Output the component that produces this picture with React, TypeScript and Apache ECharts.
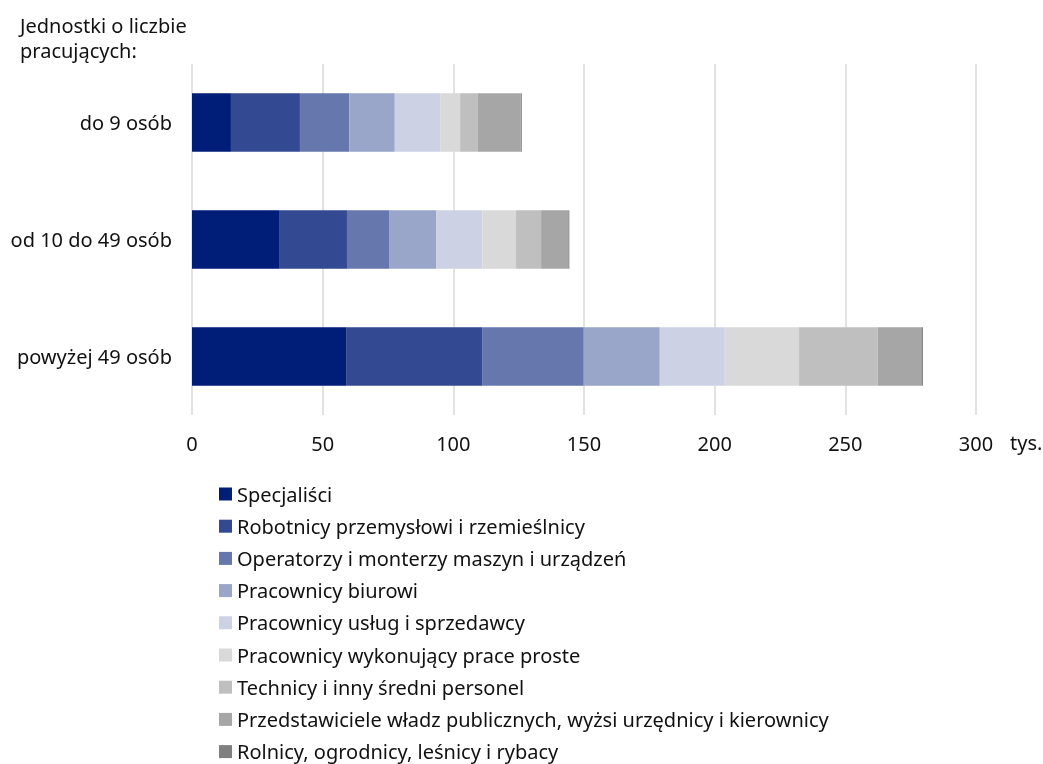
import React, { useEffect, useRef } from "react";
import * as echarts from "echarts";

const categories = ["do 9 osób", "od 10 do 49 osób", "powyżej 49 osób"];
const seriesNames = [
  "Specjaliści",
  "Robotnicy przemysłowi i rzemieślnicy",
  "Operatorzy i monterzy maszyn i urządzeń",
  "Pracownicy biurowi",
  "Pracownicy usług i sprzedawcy",
  "Pracownicy wykonujący prace proste",
  "Technicy i inny średni personel",
  "Przedstawiciele władz publicznych, wyżsi urzędnicy i kierownicy",
  "Rolnicy, ogrodnicy, leśnicy i rybacy",
];
const specjalisci = [14.9, 33.3, 59.2];
const robotnicy = [26.4, 26.0, 51.8];
const operatorzy = [18.9, 16.1, 38.9];
const biurowi = [17.4, 18.0, 29.1];
const uslugi = [17.4, 17.7, 24.9];
const proste = [7.6, 12.9, 28.4];
const technicy = [6.8, 9.6, 30.1];
const przedstawiciele = [16.4, 10.4, 16.7];
const rolnicy = [0.4, 0.4, 0.6];
const seriesValues = [specjalisci, robotnicy, operatorzy, biurowi, uslugi, proste, technicy, przedstawiciele, rolnicy];
const colors = ["#001D77", "#334A92", "#6677AD", "#99A5C9", "#CCD2E4", "#D9D9D9", "#BFBFBF", "#A6A6A6", "#808080"];
const xTicks = [0, 50, 100, 150, 200, 250, 300];

const FONT = "'Noto Sans', sans-serif";
const TXT = "#111111";
const FS = 20;

export default function App() {
  const ref = useRef<HTMLDivElement>(null);
  useEffect(() => {
    if (!ref.current) return;
    const chart = echarts.init(ref.current, undefined, { renderer: "svg" });
    chart.setOption({
      animation: false,
      textStyle: { fontFamily: FONT },
      title: {
        text: "Jednostki o liczbie\npracujących:",
        left: 20,
        top: 13,
        padding: 0,
        textStyle: { fontFamily: FONT, fontSize: FS, fontWeight: "normal", color: TXT, lineHeight: 25 },
      },
      grid: { left: 192, right: 67, top: 64, bottom: 349, containLabel: false },
      xAxis: {
        type: "value",
        min: xTicks[0],
        max: xTicks[xTicks.length - 1],
        interval: 50,
        axisLine: { show: false },
        axisTick: { show: false },
        axisLabel: { fontFamily: FONT, fontSize: FS, color: TXT, margin: 18 },
        splitLine: { show: true, lineStyle: { color: "#D9D9D9", width: 1.5 } },
      },
      yAxis: {
        type: "category",
        data: categories,
        inverse: true,
        axisLine: { show: false },
        axisTick: { show: false },
        axisLabel: { fontFamily: FONT, fontSize: FS, color: TXT, margin: 20 },
      },
      legend: {
        orient: "vertical",
        left: 219,
        top: 484,
        height: 280,
        padding: 0,
        icon: "rect",
        itemWidth: 13,
        itemHeight: 13,
        itemGap: 12.2,
        textStyle: { fontFamily: FONT, fontSize: FS, color: TXT },
        data: seriesNames,
      },
      graphic: [
        {
          type: "text",
          left: 1010,
          top: 432,
          style: { text: "tys.", fontFamily: FONT, fontSize: FS, fill: TXT },
        },
      ],
      series: seriesNames.map((name, i) => ({
        name,
        type: "bar",
        stack: "total",
        data: seriesValues[i],
        barCategoryGap: "50%",
        itemStyle: { color: colors[i] },
      })),
    });
    return () => chart.dispose();
  }, []);
  return <div ref={ref} style={{ position: "fixed", left: 0, top: 0, width: 1043, height: 764 }} />;
}
